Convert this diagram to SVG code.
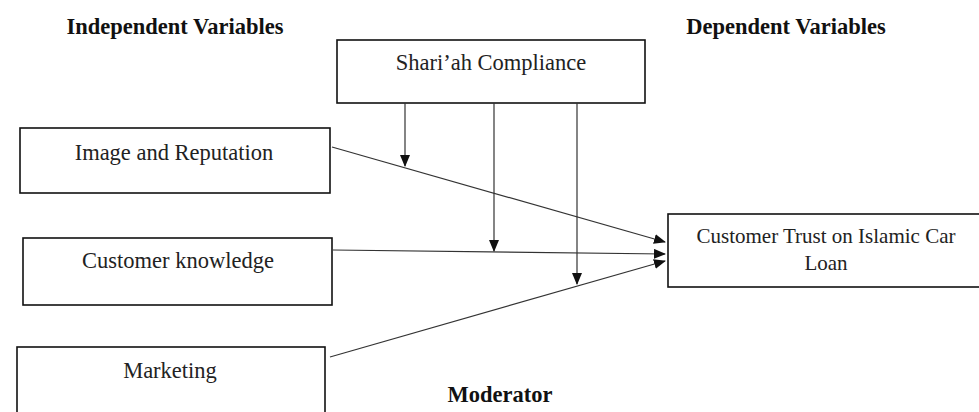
<svg xmlns="http://www.w3.org/2000/svg" width="979" height="412" viewBox="0 0 979 412">
<style>
.box{fill:#fff;stroke:#111;stroke-width:1.6}
.t{font-family:"Liberation Serif","Times New Roman",serif;font-size:22.5px;fill:#222;text-anchor:middle}
.h{font-family:"Liberation Serif","Times New Roman",serif;font-size:22.5px;font-weight:bold;fill:#111;text-anchor:middle}
.ln{stroke:#333;stroke-width:1.2;fill:none;marker-end:url(#ah)}
</style>
<defs>
<marker id="ah" markerWidth="12" markerHeight="10" refX="11" refY="5" orient="auto" markerUnits="userSpaceOnUse">
<path d="M0,0 L12,5 L0,10 Z" fill="#111"/>
</marker>
</defs>
<rect width="979" height="412" fill="#fff"/>
<text class="h" x="175" y="34">Independent Variables</text>
<text class="h" x="786" y="34">Dependent Variables</text>
<text class="h" x="500" y="402">Moderator</text>
<g id="sharia"><rect class="box" x="337" y="40" width="308" height="63"/><text class="t" x="491" y="70">Shari’ah Compliance</text></g>
<g id="image"><rect class="box" x="20" y="128" width="310" height="65"/><text class="t" x="174" y="160">Image and Reputation</text></g>
<g id="knowledge"><rect class="box" x="23" y="238" width="309" height="67"/><text class="t" x="178" y="268">Customer knowledge</text></g>
<g id="marketing"><rect class="box" x="17" y="347" width="308" height="70"/><text class="t" x="170" y="378">Marketing</text></g>
<g id="trust"><rect class="box" x="668" y="214" width="316" height="73"/><text class="t" x="826" y="243" style="font-size:21px">Customer Trust on Islamic Car</text><text class="t" x="826" y="270" style="font-size:21px">Loan</text></g>
<g id="connectors">
<line class="ln" x1="332" y1="147" x2="665" y2="242"/>
<line class="ln" x1="333" y1="250" x2="665" y2="254"/>
<line class="ln" x1="330" y1="357" x2="665" y2="261"/>
<line class="ln" x1="405" y1="103" x2="405" y2="166"/>
<line class="ln" x1="494" y1="103" x2="494" y2="251"/>
<line class="ln" x1="577" y1="103" x2="577" y2="284"/>
</g>
</svg>
